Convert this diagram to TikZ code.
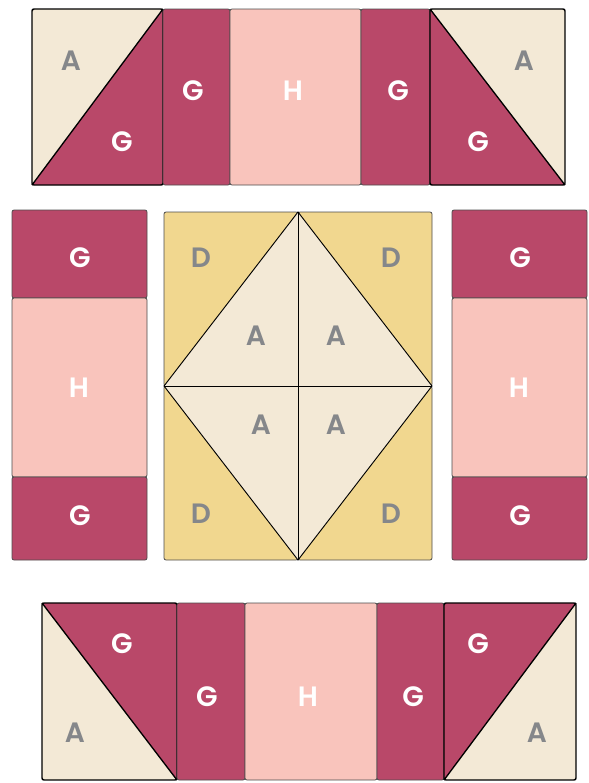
\documentclass[tikz,border=0pt]{standalone}
\usepackage{fontspec}
\setmainfont{Poppins}[BoldFont={Poppins SemiBold}]
\usepackage{tikz}
\definecolor{cream}{HTML}{F3E9D6}
\definecolor{berry}{HTML}{B94869}
\definecolor{blush}{HTML}{F9C4BC}
\definecolor{mustard}{HTML}{F1D78F}
\definecolor{slate}{HTML}{85878A}

\begin{document}
\begin{tikzpicture}[x=0.75pt,y=-0.75pt,
  every node/.style={font=\fontsize{21}{21}\selectfont\bfseries},
  patch/.style={draw=black!70,line width=0.6pt,rounded corners=1.5pt},
  hst/.style={draw=black,line width=1.1pt,rounded corners=1.5pt},
  seam/.style={draw=black,line width=1pt},
  dk/.style={text=white},
  lt/.style={text=slate}
]
\useasboundingbox (0,0) rectangle (589,783);

% top row
\fill[cream] (32,9) rectangle (163,185);
\fill[berry] (32,185) -- (163,9) -- (163,185) -- cycle;
\draw[seam] (32,185) -- (163,9);
\draw[hst] (32,9) rectangle (163,185);
\draw[patch,fill=berry] (163,9) rectangle (230,185);
\draw[patch,fill=blush] (230,9) rectangle (361,185);
\draw[patch,fill=berry] (361,9) rectangle (430,185);
\fill[cream] (430,9) rectangle (565,185);
\fill[berry] (430,9) -- (565,185) -- (430,185) -- cycle;
\draw[seam] (430,9) -- (565,185);
\draw[hst] (430,9) rectangle (565,185);
\node[lt] (tA1) at (71,61) {A};
\node[dk] (tG1) at (122,142) {G};
\node[dk] (tG2) at (193,91) {G};
\node[dk] (tH) at (293,91) {H};
\node[dk] (tG3) at (398,91) {G};
\node[lt] (tA2) at (524,61) {A};
\node[dk] (tG4) at (478,142) {G};

% side columns
\foreach \x/\s in {12/l,452/r}{
  \draw[patch,fill=berry] (\x,210) rectangle ++(135,88);
  \draw[patch,fill=blush] (\x,298) rectangle ++(135,179);
  \draw[patch,fill=berry] (\x,477) rectangle ++(135,83);
  \node[dk] (\s G1) at ({\x+68},258) {G};
  \node[dk] (\s H) at ({\x+67},388) {H};
  \node[dk] (\s G2) at ({\x+68},516) {G};
}

% centre block
\draw[patch,fill=mustard] (164,212) rectangle (298,386);
\draw[patch,fill=mustard] (298,212) rectangle (432,386);
\draw[patch,fill=mustard] (164,386) rectangle (298,560);
\draw[patch,fill=mustard] (298,386) rectangle (432,560);
\draw[draw=black,line width=0.7pt,fill=cream]
  (298,212) -- (432,386) -- (298,560) -- (164,386) -- cycle;
\draw[draw=black,line width=0.6pt] (298,212) -- (298,560) (164,386) -- (432,386);
\node[lt] (cD1) at (201,258) {D};
\node[lt] (cD2) at (391,258) {D};
\node[lt] (cD3) at (201,514) {D};
\node[lt] (cD4) at (391,514) {D};
\node[lt] (cA1) at (256,336) {A};
\node[lt] (cA2) at (336,336) {A};
\node[lt] (cA3) at (261,425) {A};
\node[lt] (cA4) at (336,425) {A};

% bottom row
\fill[cream] (42,603) rectangle (177,780);
\fill[berry] (42,603) -- (177,603) -- (177,780) -- cycle;
\draw[seam] (42,603) -- (177,780);
\draw[hst] (42,603) rectangle (177,780);
\draw[patch,fill=berry] (177,603) rectangle (245,780);
\draw[patch,fill=blush] (245,603) rectangle (377,780);
\draw[patch,fill=berry] (377,603) rectangle (444,780);
\fill[cream] (444,603) rectangle (576,780);
\fill[berry] (444,603) -- (576,603) -- (444,780) -- cycle;
\draw[seam] (444,780) -- (576,603);
\draw[hst] (444,603) rectangle (576,780);
\node[dk] (bG1) at (122,644) {G};
\node[lt] (bA1) at (75,733) {A};
\node[dk] (bG2) at (207,697) {G};
\node[dk] (bH) at (308,697) {H};
\node[dk] (bG3) at (413,697) {G};
\node[dk] (bG4) at (478,644) {G};
\node[lt] (bA2) at (537,733) {A};
\end{tikzpicture}
\end{document}
